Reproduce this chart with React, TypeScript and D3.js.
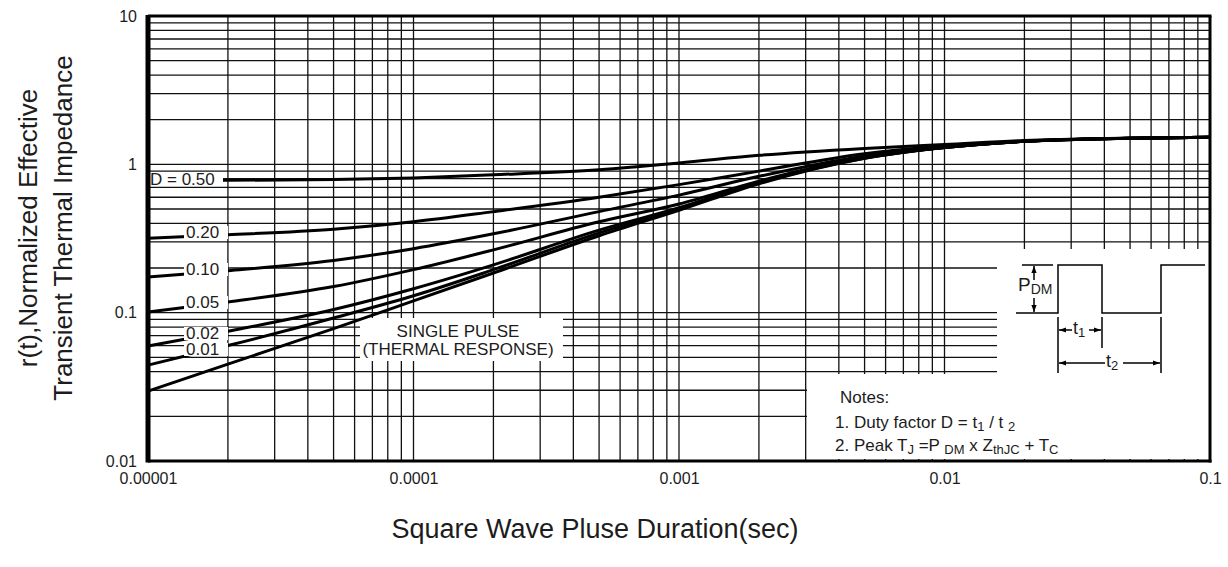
import React, { useRef, useEffect } from 'react';
import * as d3 from 'd3';

// pulse duration (sec)
const times = [1e-5, 2e-5, 5e-5, 1e-4, 2e-4, 5e-4, 1e-3, 2e-3, 5e-3, 1e-2, 2e-2, 5e-2, 1e-1];

// r(t) for each duty factor
const d50 = [0.78, 0.78, 0.79, 0.81, 0.85, 0.92, 1.02, 1.15, 1.28, 1.36, 1.45, 1.5, 1.52];
const d20 = [0.318, 0.335, 0.365, 0.41, 0.48, 0.6, 0.73, 0.9, 1.18, 1.33, 1.43, 1.5, 1.52];
const d10 = [0.174, 0.192, 0.225, 0.27, 0.34, 0.48, 0.62, 0.83, 1.14, 1.31, 1.43, 1.5, 1.52];
const d05 = [0.101, 0.118, 0.15, 0.195, 0.265, 0.41, 0.54, 0.77, 1.12, 1.3, 1.43, 1.5, 1.52];
const d02 = [0.0596, 0.075, 0.105, 0.145, 0.21, 0.36, 0.51, 0.76, 1.11, 1.3, 1.43, 1.5, 1.52];
const d01 = [0.0443, 0.06, 0.092, 0.13, 0.195, 0.345, 0.5, 0.75, 1.1, 1.3, 1.43, 1.5, 1.52];
const single = [0.0296, 0.045, 0.078, 0.12, 0.185, 0.33, 0.49, 0.74, 1.1, 1.3, 1.43, 1.5, 1.52];

const series = [d50, d20, d10, d05, d02, d01, single];
const dutyLabels = ['D = 0.50', '0.20', '0.10', '0.05', '0.02', '0.01'];

const xTickValues = [0.00001, 0.0001, 0.001, 0.01, 0.1];
const xTickLabels = ['0.00001', '0.0001', '0.001', '0.01', '0.1'];
const yTickValues = [0.01, 0.1, 1, 10];
const yTickLabels = ['0.01', '0.1', '1', '10'];

const FONT = '"Liberation Sans", Arial, sans-serif';
const INK = '#1c1c1c';

const Chart = () => {
  const svgRef = useRef(null);

  useEffect(() => {
    const svg = d3.select(svgRef.current);
    svg.selectAll('*').remove();

    const left = 148, right = 1210, top = 16, bottom = 461;
    const x = d3.scaleLog().domain([1e-5, 0.1]).range([left, right]);
    const y = d3.scaleLog().domain([0.01, 10]).range([bottom, top]);

    // grid
    const grid = svg.append('g').attr('stroke', '#111').attr('stroke-width', 1.3);
    grid.selectAll('.vx')
      .data(x.ticks())
      .join('line')
      .attr('x1', d => x(d)).attr('x2', d => x(d))
      .attr('y1', top).attr('y2', bottom);
    grid.selectAll('.hy')
      .data(y.ticks())
      .join('line')
      .attr('x1', left)
      .attr('x2', d => (d < 0.29 ? 997 : right))
      .attr('y1', d => y(d)).attr('y2', d => y(d));

    // blank areas: inset, notes, single pulse caption
    const blanks = [
      [998, 249, 1209, 459],
      [807, 374, 1209, 459],
      [360, 318, 563, 361],
    ];
    svg.append('g').selectAll('rect')
      .data(blanks)
      .join('rect')
      .attr('x', d => d[0]).attr('y', d => d[1])
      .attr('width', d => d[2] - d[0]).attr('height', d => d[3] - d[1])
      .attr('fill', '#fff');

    // curves
    const curve = d3.line<number>()
      .x((v, i) => x(times[i]))
      .y(v => y(v))
      .curve(d3.curveMonotoneX);
    svg.append('g').selectAll('path')
      .data(series)
      .join('path')
      .attr('d', d => curve(d))
      .attr('fill', 'none')
      .attr('stroke', '#000')
      .attr('stroke-width', 3);

    // duty labels
    const labelPos = [
      [150, 179, 149, 223],
      [186, 232, 184, 228],
      [186, 269, 184, 228],
      [186, 302, 184, 228],
      [186, 333, 184, 228],
      [186, 349, 184, 228],
    ];
    const lab = svg.append('g');
    lab.selectAll('rect')
      .data(labelPos)
      .join('rect')
      .attr('x', d => d[2]).attr('y', d => d[1] - 6)
      .attr('width', d => d[3] - d[2]).attr('height', 13)
      .attr('fill', '#fff');
    lab.selectAll('text')
      .data(dutyLabels)
      .join('text')
      .attr('x', (d, i) => labelPos[i][0])
      .attr('y', (d, i) => labelPos[i][1])
      .attr('dy', '0.35em')
      .attr('font-size', 17)
      .attr('font-family', FONT)
      .attr('fill', INK)
      .text(d => d);

    // single pulse caption
    const cap = svg.append('g').attr('font-family', FONT).attr('font-size', 17)
      .attr('fill', INK).attr('text-anchor', 'middle');
    cap.append('text').attr('x', 458).attr('y', 337).text('SINGLE PULSE');
    cap.append('text').attr('x', 458).attr('y', 355).text('(THERMAL RESPONSE)');

    // frame
    const frame = svg.append('g').attr('stroke', '#000');
    frame.append('line').attr('x1', left).attr('x2', left).attr('y1', top - 1).attr('y2', bottom + 1.5).attr('stroke-width', 5);
    frame.append('line').attr('x1', left).attr('x2', right + 1.5).attr('y1', top).attr('y2', top).attr('stroke-width', 3);
    frame.append('line').attr('x1', left).attr('x2', right + 1.5).attr('y1', bottom).attr('y2', bottom).attr('stroke-width', 3);
    frame.append('line').attr('x1', right).attr('x2', right).attr('y1', top).attr('y2', bottom + 1.5).attr('stroke-width', 3);

    // axes labels
    const xAxis = d3.axisBottom(x).tickValues(xTickValues)
      .tickFormat((d, i) => xTickLabels[i]).tickSize(0).tickPadding(0);
    const gx = svg.append('g').attr('transform', `translate(0,${bottom + 17})`).call(xAxis);
    gx.select('.domain').remove();
    gx.selectAll('text').attr('font-size', 16).attr('font-family', FONT).attr('fill', INK).attr('dy', '0.4em');

    const yAxis = d3.axisLeft(y).tickValues(yTickValues)
      .tickFormat((d, i) => yTickLabels[i]).tickSize(0).tickPadding(11);
    const gy = svg.append('g').attr('transform', 'translate(148,0)').call(yAxis);
    gy.select('.domain').remove();
    gy.selectAll('text').attr('font-size', 16).attr('font-family', FONT).attr('fill', INK);

    const titles = svg.append('g').attr('font-family', FONT).attr('fill', INK).attr('text-anchor', 'middle');
    titles.append('text').attr('x', 595).attr('y', 538).attr('font-size', 27).text('Square Wave Pluse Duration(sec)');
    titles.append('text').attr('transform', 'translate(37,228) rotate(-90)').attr('font-size', 26).text('r(t),Normalized Effective');
    titles.append('text').attr('transform', 'translate(72,228) rotate(-90)').attr('font-size', 26).text('Transient Thermal Impedance');

    // inset pulse diagram
    const ins = svg.append('g').attr('stroke', '#000').attr('fill', 'none').attr('stroke-width', 1.5);
    ins.append('path').attr('d', 'M1016,313H1058V265H1102V313H1161V265H1205');
    ins.append('path').attr('d', 'M1022,265H1053');
    ins.append('path').attr('d', 'M1058,317V373M1102,317V348M1161,317V373');
    const arrow = (x1: number, y1: number, x2: number, y2: number) => {
      ins.append('line').attr('x1', x1).attr('y1', y1).attr('x2', x2).attr('y2', y2);
      const a = Math.atan2(y2 - y1, x2 - x1);
      const L = 7, w = 2.6;
      const bx = x2 - L * Math.cos(a), by = y2 - L * Math.sin(a);
      const px = -Math.sin(a) * w, py = Math.cos(a) * w;
      ins.append('path')
        .attr('d', `M${x2},${y2}L${bx + px},${by + py}L${bx - px},${by - py}Z`)
        .attr('fill', '#000').attr('stroke', 'none');
    };
    arrow(1034, 280, 1034, 266);
    arrow(1034, 298, 1034, 312);
    arrow(1072, 330, 1059, 330);
    arrow(1089, 330, 1101, 330);
    arrow(1105, 363, 1059, 363);
    arrow(1123, 363, 1160, 363);

    const it = svg.append('g').attr('font-family', FONT).attr('fill', INK);
    const pdm = it.append('text').attr('x', 1018).attr('y', 291).attr('font-size', 19);
    pdm.append('tspan').text('P');
    pdm.append('tspan').attr('font-size', 14).attr('dy', 3).text('DM');
    const t1 = it.append('text').attr('x', 1073).attr('y', 334).attr('font-size', 18);
    t1.append('tspan').text('t');
    t1.append('tspan').attr('font-size', 13).attr('dy', 3).text('1');
    const t2 = it.append('text').attr('x', 1106).attr('y', 367).attr('font-size', 18);
    t2.append('tspan').text('t');
    t2.append('tspan').attr('font-size', 13).attr('dy', 3).text('2');

    // notes
    const nt = svg.append('g').attr('font-family', FONT).attr('fill', INK).attr('font-size', 17)
      .style('white-space', 'pre');
    nt.append('text').attr('x', 840).attr('y', 403).text('Notes:');
    const n1 = nt.append('text').attr('x', 835).attr('y', 428);
    n1.append('tspan').text('1. Duty factor D =  t');
    n1.append('tspan').attr('font-size', 13).attr('dy', 3).text('1');
    n1.append('tspan').attr('dy', -3).text(' / t ');
    n1.append('tspan').attr('font-size', 13).attr('dy', 3).text('2');
    const n2 = nt.append('text').attr('x', 835).attr('y', 451);
    n2.append('tspan').text('2. Peak T');
    n2.append('tspan').attr('font-size', 13).attr('dy', 3).text('J');
    n2.append('tspan').attr('dy', -3).text(' =P ');
    n2.append('tspan').attr('font-size', 13).attr('dy', 3).text('DM');
    n2.append('tspan').attr('dy', -3).text(' x  Z');
    n2.append('tspan').attr('font-size', 13).attr('dy', 3).text('thJC');
    n2.append('tspan').attr('dy', -3).text('  + T');
    n2.append('tspan').attr('font-size', 13).attr('dy', 3).text('C');
  }, []);

  return (
    <svg
      ref={svgRef}
      width={1228}
      height={567}
      style={{ position: 'absolute', left: 0, top: 0, background: '#fff' }}
    />
  );
};

export default function App() {
  return <Chart />;
}
